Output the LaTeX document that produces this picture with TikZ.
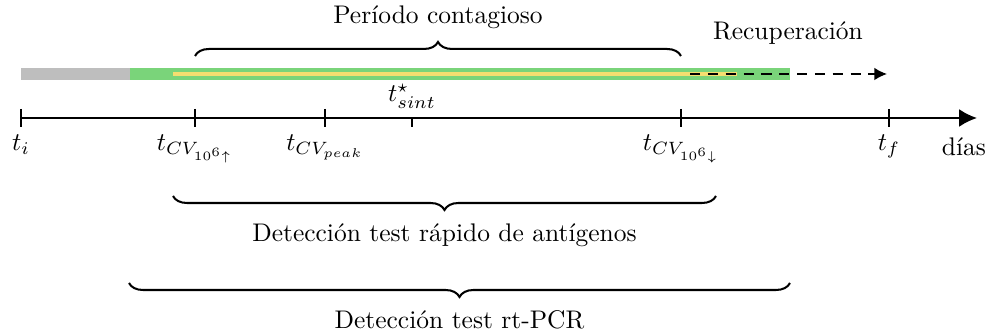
\documentclass[tikz,border=0pt]{standalone}
\usepackage{amsmath,amssymb}
\usetikzlibrary{arrows.meta, positioning, calc, decorations.pathreplacing}
\definecolor{bargray}{RGB}{190,190,190}
\definecolor{bargreen}{RGB}{122,212,122}
\definecolor{baryellow}{RGB}{245,222,112}

\begin{document}
\begin{tikzpicture}[
  x=0.0138cm, y=-0.0138cm,
  axis/.style={-{Latex[length=7pt,width=7pt]}, thick},
  tk/.style={semithick},
  bar/.style={line width=4.7pt},
  brc/.style={decorate, decoration={brace, amplitude=5.5pt}, thick},
  lbl/.style={anchor=base, inner sep=1pt},
]
\useasboundingbox (0,0) rectangle (991,333);

% time axis
\coordinate (ti) at (21,118);
\coordinate (cvup) at (195,118);
\coordinate (cvpk) at (325,118);
\coordinate (sint) at (412,118);
\coordinate (cvdn) at (681,118);
\coordinate (tf) at (889,118);
\coordinate (axend) at (977,118);
\draw[axis] (ti) -- (axend);
\draw[tk] ($(ti)+(0,-9)$) -- ($(ti)+(0,9)$);
\draw[tk] ($(cvup)+(0,-9)$) -- ($(cvup)+(0,9)$);
\draw[tk] ($(cvpk)+(0,-9)$) -- ($(cvpk)+(0,9)$);
\draw[tk] (sint) -- ($(sint)+(0,9)$);
\draw[tk] ($(cvdn)+(0,-9)$) -- ($(cvdn)+(0,9)$);
\draw[tk] ($(tf)+(0,-9)$) -- ($(tf)+(0,9)$);

\node[lbl] (lti) at (21,151) {$t_i$};
\node[lbl] (lcvup) at (195,151) {$t_{CV_{10^6\uparrow}}$};
\node[lbl] (lcvpk) at (325,151) {$t_{CV_{peak}}$};
\node[inner sep=1pt, above=2.5pt of sint] (lsint) {$t^{\star}_{sint}$};
\node[lbl] (lcvdn) at (681,151) {$t_{CV_{10^6\downarrow}}$};
\node[lbl] (ltf) at (889,151) {$t_f$};
\node[lbl] (ldias) at (964,156) {días};

% infection bars
\coordinate (b0) at (21,74);
\coordinate (b1) at (130,74);
\coordinate (b2) at (790,74);
\coordinate (y0) at (173,74);
\coordinate (y1) at (737,74);
\coordinate (d0) at (690,74);
\coordinate (d1) at (887,74);
\draw[bar, bargray] (b0) -- (b1);
\draw[bar, bargreen] (b1) -- (b2);
\draw[line width=1.6pt, baryellow] (y0) -- (y1);
\draw[dash pattern=on 4pt off 3pt, semithick, -{Latex[length=5pt,width=5pt]}] (d0) -- (d1);
\node[inner sep=1pt] (recup) at (788,33) {Recuperación};

% braces
\draw[brc] (195,56) -- (681,56)
  node[midway, above=7pt] (contag) {Período contagioso};
\draw[brc] (716,196) -- (173,196)
  node[midway, below=7pt] (antig) {Detección test rápido de antígenos};
\draw[brc] (790,283) -- (129,283)
  node[midway, below=7pt] (pcr) {Detección test rt-PCR};
\end{tikzpicture}
\end{document}
